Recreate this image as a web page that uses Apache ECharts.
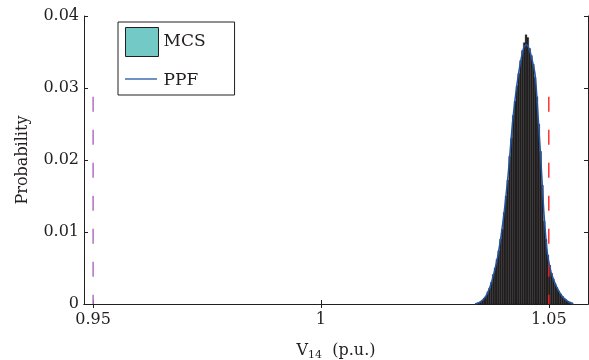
<!DOCTYPE html>
<html>
<head>
<meta charset="utf-8">
<script src="https://cdn.jsdelivr.net/npm/echarts@6/dist/echarts.min.js"></script>
<style>html,body{margin:0;padding:0;background:#fff}#c{width:589px;height:360px}</style>
</head>
<body>
<div id="c"></div>
<script>
// ---- data ----
const xTicks = [0.95, 1, 1.05];
const yTicks = [0, 0.01, 0.02, 0.03, 0.04];
const binWidth = 0.0004;
const binCenters = [1.0342,1.0346,1.0350,1.0354,1.0358,1.0362,1.0366,1.0370,1.0374,1.0378,
  1.0382,1.0386,1.0390,1.0394,1.0398,1.0402,1.0406,1.0410,1.0414,1.0418,
  1.0422,1.0426,1.0430,1.0434,1.0438,1.0442,1.0446,1.0450,1.0454,1.0458,
  1.0462,1.0466,1.0470,1.0474,1.0478,1.0482,1.0486,1.0490,1.0494,1.0498,
  1.0502,1.0506,1.0510,1.0514,1.0518,1.0522,1.0526,1.0530,1.0534,1.0538,
  1.0542,1.0546,1.0550];
const mcsProb = [0.0001,0.0002,0.0003,0.0005,0.0008,0.0011,0.0017,0.0022,0.0030,0.0041,
  0.0050,0.0062,0.0074,0.0090,0.0104,0.0127,0.0150,0.0172,0.0205,0.0230,
  0.0262,0.0282,0.0303,0.0320,0.0338,0.0352,0.0363,0.0374,0.0370,0.0355,
  0.0345,0.0333,0.0315,0.0288,0.0250,0.0212,0.0165,0.0115,0.0090,0.0068,
  0.0054,0.0043,0.0035,0.0028,0.0023,0.0018,0.0014,0.0011,0.0008,0.0006,
  0.0004,0.0003,0.0002];
const ppfX = [1.0338,1.0350,1.0362,1.0371,1.0380,1.0389,1.0400,1.0411,1.0421,1.0429,
  1.0437,1.0445,1.0451,1.0457,1.0463,1.0470,1.0477,1.0484,1.0490,1.0497,
  1.0505,1.0517,1.0530,1.0543,1.0554];
const ppfY = [0.0000,0.0003,0.0011,0.0024,0.0044,0.0070,0.0117,0.0182,0.0256,0.0300,
  0.0333,0.0356,0.0360,0.0354,0.0340,0.0318,0.0256,0.0184,0.0120,0.0070,
  0.0044,0.0024,0.0010,0.0003,0.0000];
const lowerLimit = 0.95, upperLimit = 1.05, limitTop = 0.0288;

const FONT = 'DejaVu Serif';
const INK = '#231f20';
const PPF_COLOR = '#2456a6';
const fmt = v => String(Math.round(v * 1000) / 1000);

const chart = echarts.init(document.getElementById('c'), null, {renderer: 'canvas'});
const xBase = {
  type: 'value', min: 0.948, max: 1.0586,
  axisLine: {lineStyle: {color: INK, width: 1}},
  axisTick: {inside: true, length: 4, customValues: xTicks, lineStyle: {color: INK}},
  splitLine: {show: false}
};
const yBase = {
  type: 'value', min: 0, max: 0.04, interval: 0.01,
  axisLine: {show: true, lineStyle: {color: INK, width: 1}},
  axisTick: {inside: true, length: 4, lineStyle: {color: INK}},
  splitLine: {show: false}
};
chart.setOption({
  animation: false,
  backgroundColor: '#fff',
  grid: {left: 84, right: 1, top: 16, bottom: 56, containLabel: false, outerBoundsMode: 'none'},
  xAxis: [
    Object.assign({}, xBase, {
      position: 'bottom',
      axisLabel: {customValues: xTicks, formatter: fmt, color: INK, fontFamily: FONT, fontSize: 16, margin: 8},
      name: '{a|V}{s|14}{a|  (p.u.)}', nameLocation: 'middle', nameGap: 36,
      nameTextStyle: {rich: {
        a: {fontFamily: FONT, fontSize: 16, color: INK},
        s: {fontFamily: FONT, fontSize: 11, color: INK, verticalAlign: 'bottom', padding: [10, 0, 0, 0]}
      }}
    }),
    Object.assign({}, xBase, {position: 'top', axisLabel: {show: false}})
  ],
  yAxis: [
    Object.assign({}, yBase, {
      position: 'left',
      axisLabel: {formatter: fmt, color: INK, fontFamily: FONT, fontSize: 16, margin: 5},
      name: 'Probability', nameLocation: 'middle', nameGap: 53,
      nameTextStyle: {fontFamily: FONT, fontSize: 16, color: INK}
    }),
    Object.assign({}, yBase, {position: 'right', axisLabel: {show: false}})
  ],
  legend: {
    orient: 'vertical', left: 118, top: 22, padding: [5, 29, 6, 7],
    itemGap: 9, itemWidth: 33, itemHeight: 29,
    borderColor: INK, borderWidth: 1, backgroundColor: '#fff',
    textStyle: {fontFamily: FONT, fontSize: 17, color: INK, padding: [2, 0, 0, 0]},
    data: [
      {name: 'MCS', icon: 'rect', itemStyle: {color: '#72c9c5', borderColor: INK, borderWidth: 1}},
      {name: 'PPF', icon: 'none', textStyle: {padding: [12, 0, 0, 0]}}
    ]
  },
  graphic: [
    {type: 'line', shape: {x1: 125, y1: 79, x2: 157, y2: 79}, style: {stroke: PPF_COLOR, lineWidth: 1.3}, z: 100}
  ],
  series: [
    {
      name: 'MCS', type: 'custom', xAxisIndex: 0, yAxisIndex: 0,
      data: binCenters.map((c, i) => [c, mcsProb[i]]),
      encode: {x: 0, y: 1},
      itemStyle: {color: '#231f20'},
      renderItem: function (params, api) {
        const c = api.value(0), p = api.value(1);
        const tl = api.coord([c - binWidth / 2, p]);
        const br = api.coord([c + binWidth / 2, 0]);
        return {type: 'rect', shape: {x: tl[0], y: tl[1], width: br[0] - tl[0], height: br[1] - tl[1]},
          style: {fill: '#231f20', stroke: '#1a1a1a', lineWidth: 0.3}};
      },
      z: 2
    },
    {
      name: 'Lower', type: 'line', xAxisIndex: 0, yAxisIndex: 0,
      data: [[lowerLimit, limitTop], [lowerLimit, 0]], symbol: 'none',
      lineStyle: {color: '#b070c4', width: 1.5, type: [15, 18]}, z: 3
    },
    {
      name: 'Upper', type: 'line', xAxisIndex: 0, yAxisIndex: 0,
      data: [[upperLimit, limitTop], [upperLimit, 0]], symbol: 'none',
      lineStyle: {color: '#ff2020', width: 1.4, type: [15, 18]}, z: 4
    },
    {
      name: 'PPF', type: 'line', xAxisIndex: 0, yAxisIndex: 0,
      data: ppfX.map((x, i) => [x, ppfY[i]]), symbol: 'none', smooth: 0.3,
      lineStyle: {color: PPF_COLOR, width: 1.5}, itemStyle: {color: PPF_COLOR}, z: 5
    }
  ]
});
</script>
</body>
</html>
